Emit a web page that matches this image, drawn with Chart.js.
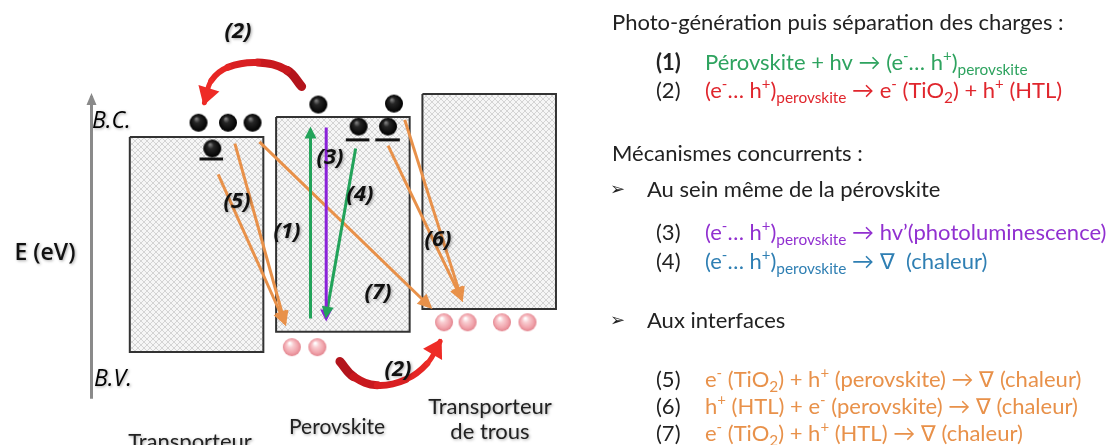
<!DOCTYPE html>
<html><head><meta charset="utf-8">
<script src="https://cdn.jsdelivr.net/npm/chart.js@4"></script>
<style>html,body{margin:0;padding:0;background:#fff;overflow:hidden}#wrap{width:1109px;height:445px;position:relative}</style>
</head><body><div id="wrap"><canvas id="c" width="1109" height="445"></canvas></div>
<script>
// ---------------- DATA (diagram units: x across, y = picture row, top = 0) ----------------
const layerNames = ["Transporteur d'électrons", 'Perovskite', 'Transporteur de trous'];
const layerLeft   = [122, 271, 420];
const layerRight  = [258, 407, 556];
const bandCB      = [133, 112, 88];   // conduction band edge (B.C.)
const bandVB      = [358, 337, 313];  // valence band edge (B.V.)

const electronX = [192, 222, 247, 314, 391];
const electronY = [118, 118, 118, 99, 98];
const trappedX  = [206, 355, 385];
const trappedY  = [145, 122, 122];
const trapX1 = [193, 342, 372];
const trapX2 = [217, 366, 397];
const trapY  = [156, 136, 136];
const holeX = [287, 313, 442, 466, 501, 527];
const holeY = [353, 353, 327, 327, 327, 327];

// straight transitions
const transId   = ['(1)', '(3)', '(4)', '(5)', '(5)', '(7)', '(6)', '(6)'];
const transX0   = [306, 322, 352, 212, 229, 254, 385, 402];
const transY0   = [323, 123, 145, 172, 140, 138, 142, 115];
const transX1   = [306, 322, 322, 280, 280, 428, 460, 460];
const transY1   = [125, 323, 320, 328, 328, 311, 303, 303];

// charge-separation curved arrows (2)
const injTopX = [297, 282, 252, 222, 205, 198];
const injTopY = [80, 63, 55, 60, 74, 97];
const injBotX = [336, 350, 374, 403, 425, 438];
const injBotY = [368, 384, 393, 387, 370, 347];

// axis
const axisX = [83, 83];
const axisY = [407, 90];

// texts
const diagramLabels = ['(2)', '(3)', '(4)', '(1)', '(5)', '(6)', '(7)', '(2)'];
const headings = ['Photo-génération puis séparation des charges :', 'Mécanismes concurrents :'];
const bullets = ['Au sein même de la pérovskite', 'Aux interfaces'];
const reactionIds = ['(1)', '(2)', '(3)', '(4)', '(5)', '(6)', '(7)'];
const reactionText = [
  'Pérovskite + hv → (e^{-}… h^{+})_{perovskite}',
  '(e^{-}… h^{+})_{perovskite} → e^{-} (TiO_{2}) + h^{+} (HTL)',
  '(e^{-}… h^{+})_{perovskite} → hv’(photoluminescence)',
  '(e^{-}… h^{+})_{perovskite} → ∇  (chaleur)',
  'e^{-} (TiO_{2}) + h^{+} (perovskite) → ∇ (chaleur)',
  'h^{+} (HTL) + e^{-} (perovskite) → ∇ (chaleur)',
  'e^{-} (TiO_{2}) + h^{+} (HTL) → ∇ (chaleur)'
];

// ---------------- STYLE / LAYOUT ----------------
const reactionColors = ['#2ea35f', '#e0262d', '#9130d0', '#2f7fb3', '#e8914a', '#e8914a', '#e8914a'];
const transColors = ['#22a35a', '#8a22d8', '#22a35a', '#e8914a', '#e8914a', '#e8914a', '#e8914a', '#e8914a'];
const labelPos = [[238, 32], [330, 158], [360, 195], [287, 232], [237, 202], [438, 240], [378, 293], [398, 370]];
const reactionRowY = [63, 91, 233, 262, 380, 407, 434];
const headingRowY = [23, 154];
const bulletRowY = [190, 321];
const layerLabelPos = [[190, 442], [337, 427], [490, 407]];

const canvas = document.getElementById('c');
const ctx0 = canvas.getContext('2d');

// hatch pattern for band boxes
const pc = document.createElement('canvas'); pc.width = pc.height = 6;
const pg = pc.getContext('2d');
pg.fillStyle = '#f6f6f6'; pg.fillRect(0, 0, 6, 6);
pg.strokeStyle = '#d4d4d4'; pg.lineWidth = 1;
pg.beginPath(); pg.moveTo(0, 0); pg.lineTo(6, 6); pg.moveTo(6, 0); pg.lineTo(0, 6); pg.stroke();
const hatch = ctx0.createPattern(pc, 'repeat');

function sphere(r, stops) {
  const s = 2 * r + 2, c = document.createElement('canvas');
  c.width = c.height = s;
  const g = c.getContext('2d');
  const gr = g.createRadialGradient(s / 2 - r * 0.25, s / 2 - r * 0.45, r * 0.08, s / 2, s / 2, r);
  stops.forEach(([o, col]) => gr.addColorStop(o, col));
  g.fillStyle = gr; g.beginPath(); g.arc(s / 2, s / 2, r, 0, Math.PI * 2); g.fill();
  return c;
}
const blackBall = sphere(9, [[0, '#7a7a7a'], [0.3, '#262626'], [1, '#000']]);
const pinkBall = sphere(9, [[0, '#ffffff'], [0.3, '#f9cdd1'], [0.75, '#f0a2aa'], [1, '#e2838d']]);

const zip = (xs, ys) => xs.map((x, i) => ({ x, y: ys[i] }));

const datasets = [];
// band boxes
layerNames.forEach((n, i) => {
  datasets.push({
    label: n, order: 10, fill: 'shape', backgroundColor: hatch,
    borderColor: '#333', borderWidth: 2, pointRadius: 0, tension: 0,
    data: zip([layerLeft[i], layerRight[i], layerRight[i], layerLeft[i], layerLeft[i]],
              [bandCB[i], bandCB[i], bandVB[i], bandVB[i], bandCB[i]])
  });
});
// axis
datasets.push({ label: 'E', order: 6, borderColor: '#8a8a8a', borderWidth: 3, pointRadius: 0,
  data: zip(axisX, axisY), head: { len: 12, half: 5, color: '#8a8a8a' } });
// straight transitions
transId.forEach((id, i) => {
  const orange = transColors[i] === '#e8914a';
  datasets.push({ label: id, order: orange ? 5 : 4, borderColor: transColors[i], borderWidth: 3, pointRadius: 0,
    data: zip([transX0[i], transX1[i]], [transY0[i], transY1[i]]),
    head: orange ? { len: 15, half: 7, color: transColors[i] } : { len: 12, half: 6, color: transColors[i] } });
});
// curved red arrows
const redW = [9, 8, 7, 6, 5];
const redC = ['#b3141c', '#c8181e', '#d91f22', '#e62624', '#ee2b26'];
[[injTopX, injTopY], [injBotX, injBotY]].forEach(([xs, ys]) => {
  datasets.push({ label: '(2)', order: 3, borderColor: '#d91f22', borderWidth: 6, pointRadius: 0,
    tension: 0.4, borderCapStyle: 'round',
    segment: { borderWidth: c => redW[c.p0DataIndex], borderColor: c => redC[c.p0DataIndex] },
    data: zip(xs, ys), head: { len: 18, half: 11, color: '#ee2b26' } });
});
// trap levels
trapX1.forEach((x, i) => {
  datasets.push({ label: 'trap', order: 2, borderColor: '#111', borderWidth: 3, pointRadius: 0,
    data: zip([trapX1[i], trapX2[i]], [trapY[i], trapY[i]]) });
});
// charges
datasets.push({ label: 'e-', order: 1, showLine: false, pointStyle: blackBall, pointRadius: 9, data: zip(electronX, electronY) });
datasets.push({ label: 'e- trapped', order: 1, showLine: false, pointStyle: blackBall, pointRadius: 9, data: zip(trappedX, trappedY) });
datasets.push({ label: 'h+', order: 1, showLine: false, pointStyle: pinkBall, pointRadius: 9, data: zip(holeX, holeY) });

const arrowPlugin = {
  id: 'arrowHeads',
  afterDatasetsDraw(chart) {
    const ctx = chart.ctx;
    chart.data.datasets.forEach((ds, i) => {
      if (!ds.head) return;
      const pts = chart.getDatasetMeta(i).data;
      const b = pts[pts.length - 1];
      let a = pts[pts.length - 2];
      if (b.cp1x !== undefined && Math.hypot(b.cp1x - b.x, b.cp1y - b.y) > 1) a = { x: b.cp1x, y: b.cp1y };
      let dx = b.x - a.x, dy = b.y - a.y; const L = Math.hypot(dx, dy); dx /= L; dy /= L;
      const { len, half, color } = ds.head;
      const tx = b.x + dx * 3, ty = b.y + dy * 3;
      const bx = tx - dx * len, by = ty - dy * len;
      ctx.save(); ctx.fillStyle = color; ctx.beginPath();
      ctx.moveTo(tx, ty); ctx.lineTo(bx - dy * half, by + dx * half); ctx.lineTo(bx + dy * half, by - dx * half);
      ctx.closePath(); ctx.fill(); ctx.restore();
    });
  }
};

function drawRich(ctx, x, y, str, color, size, family) {
  const parts = []; const re = /([\^_])\{([^}]*)\}/g; let last = 0, m;
  while ((m = re.exec(str))) { if (m.index > last) parts.push({ t: str.slice(last, m.index) }); parts.push({ t: m[2], k: m[1] }); last = re.lastIndex; }
  if (last < str.length) parts.push({ t: str.slice(last) });
  let cx = x;
  parts.forEach(p => {
    let fs = size, dy = 0;
    if (p.k === '_') { fs = size * 0.7; dy = size * 0.3; }
    if (p.k === '^') { fs = size * 0.68; dy = -size * 0.33; }
    ctx.font = `${fs}px ${family}`; ctx.fillStyle = color; ctx.textBaseline = 'middle'; ctx.textAlign = 'left';
    ctx.fillText(p.t, cx, y + dy); cx += ctx.measureText(p.t).width;
  });
}

const textPlugin = {
  id: 'texts',
  afterDraw(chart) {
    const ctx = chart.ctx, fam = 'Lato, "Open Sans", sans-serif', os = '"Open Sans", Lato, sans-serif';
    ctx.save();
    // diagram labels with soft shadow
    ctx.shadowColor = 'rgba(0,0,0,0.35)'; ctx.shadowBlur = 3; ctx.shadowOffsetX = 1; ctx.shadowOffsetY = 1;
    ctx.fillStyle = '#111'; ctx.textAlign = 'center'; ctx.textBaseline = 'middle';
    ctx.font = `italic bold 22px ${os}`;
    diagramLabels.forEach((t, i) => ctx.fillText(t, labelPos[i][0], labelPos[i][1]));
    ctx.fillStyle = '#000';
    ctx.font = `italic 500 23px ${os}`; ctx.textAlign = 'left';
    ctx.fillText('B.C.', 92, 121);
    ctx.fillText('B.V.', 94, 379);
    ctx.fillStyle = '#111';
    ctx.font = `600 23px ${os}`; ctx.textAlign = 'center';
    ctx.fillText('E (eV)', 45, 253);
    ctx.font = `22px ${fam}`; ctx.fillStyle = '#222';
    ctx.fillText('Transporteur', layerLabelPos[0][0], layerLabelPos[0][1]);
    ctx.fillText("d'électrons", layerLabelPos[0][0], layerLabelPos[0][1] + 25);
    ctx.font = `21px ${fam}`;
    ctx.fillText('Perovskite', layerLabelPos[1][0], layerLabelPos[1][1]);
    ctx.font = `22px ${fam}`;
    ctx.fillText('Transporteur', layerLabelPos[2][0], layerLabelPos[2][1]);
    ctx.fillText('de trous', layerLabelPos[2][0], layerLabelPos[2][1] + 25);
    ctx.restore();

    // right panel
    ctx.save();
    const fs = 22;
    ctx.textBaseline = 'middle'; ctx.textAlign = 'left'; ctx.fillStyle = '#222';
    ctx.font = `${fs}px ${fam}`;
    headings.forEach((h, i) => ctx.fillText(h, 612, headingRowY[i]));
    bullets.forEach((b, i) => { ctx.font = `bold 18px "DejaVu Sans"`; ctx.fillText('➢', 610, bulletRowY[i]); ctx.font = `${fs}px ${fam}`; ctx.fillText(b, 647, bulletRowY[i]); });
    reactionIds.forEach((id, i) => {
      ctx.font = `${i === 0 ? 'bold ' : ''}${fs}px ${fam}`; ctx.fillStyle = '#222';
      ctx.fillText(id, 656, reactionRowY[i]);
      drawRich(ctx, 705, reactionRowY[i], reactionText[i], reactionColors[i], fs, fam);
    });
    ctx.restore();
  }
};

new Chart(canvas, {
  type: 'line',
  data: { datasets },
  options: {
    responsive: false, animation: false, events: [],
    layout: { padding: 0 },
    plugins: { legend: { display: false }, tooltip: { enabled: false } },
    scales: {
      x: { type: 'linear', min: 0, max: 1109, display: false },
      y: { type: 'linear', min: 0, max: 445, reverse: true, display: false }
    },
    elements: { point: { radius: 0 } }
  },
  plugins: [arrowPlugin, textPlugin]
});
</script></body></html>
